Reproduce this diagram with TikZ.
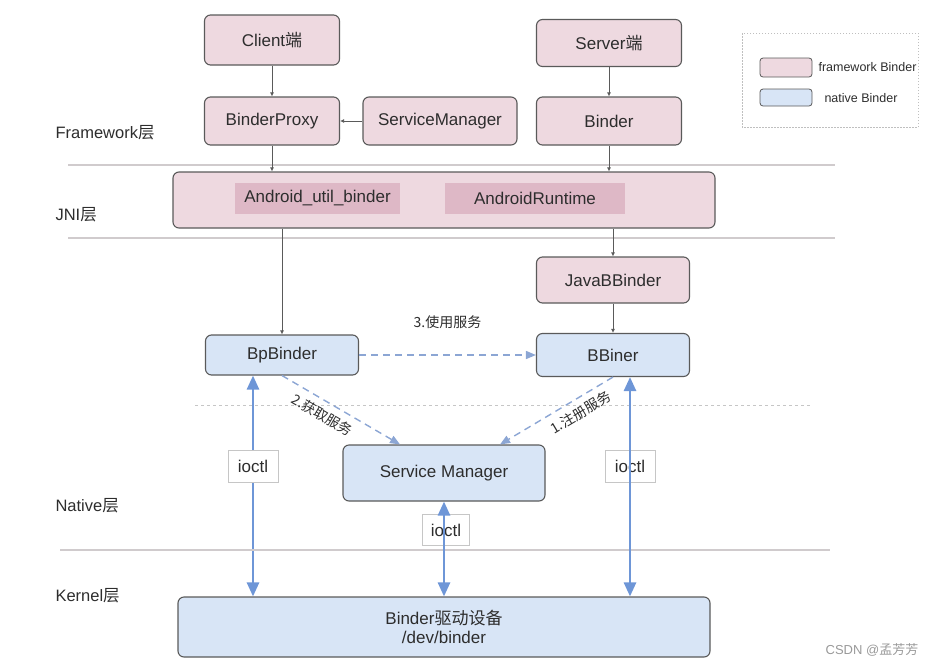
\documentclass[tikz,border=0pt]{standalone}
\usepackage{fontspec}
\setmainfont{Liberation Sans}
\newfontfamily\cjk{Noto Sans CJK SC}
\usetikzlibrary{arrows.meta,backgrounds}
\definecolor{fwpink}{RGB}{238,217,224}
\definecolor{fwdark}{RGB}{222,184,198}
\definecolor{nvblue}{RGB}{216,229,246}
\definecolor{lnblue}{RGB}{110,150,215}
\definecolor{dsblue}{RGB}{140,166,212}
\definecolor{sepgray}{RGB}{208,203,205}
\definecolor{edgegray}{RGB}{90,90,90}
\definecolor{txt}{RGB}{45,45,45}

\begin{document}
\begin{tikzpicture}[x=1pt,y=-1pt,text=txt,
    fw/.style={draw=edgegray, fill=fwpink, rounded corners=6pt, line width=1.1pt, font=\fontsize{17}{20}\selectfont, inner sep=0pt},
    nv/.style={fw, fill=nvblue},
    sub/.style={fill=fwdark, font=\fontsize{17}{20}\selectfont, minimum height=31pt, inner sep=0pt},
    io/.style={draw=gray!45, fill=white, font=\fontsize{17}{20}\selectfont, minimum width=50pt, minimum height=32pt, inner sep=0pt},
    layer/.style={font=\fontsize{16.5}{19}\selectfont, anchor=west},
    sep/.style={draw=sepgray, line width=1.5pt},
    thin/.style={draw=edgegray, line width=0.8pt, -{Latex[length=4pt,width=4pt]}},
    dsh/.style={draw=dsblue, line width=1.4pt, dash pattern=on 7pt off 5pt, -{Triangle[length=10pt,width=8pt]}},
    ioline/.style={draw=lnblue, line width=2.6pt, {Triangle[length=14pt,width=12pt]}-{Triangle[length=14pt,width=12pt]}},
    note/.style={font=\cjk\fontsize{14}{16}\selectfont}]
    \useasboundingbox (0,0) rectangle (945,667);

    % layers
    \node(lfw) at (52,133) [layer]{Framework{\cjk 层}};
    \node(ljni) at (52,215) [layer]{JNI{\cjk 层}};
    \node(lnat) at (52,506) [layer]{Native{\cjk 层}};
    \node(lker) at (52,596) [layer]{Kernel{\cjk 层}};
    \draw[sep] (68,165) -- (835,165);
    \draw[sep] (68,238) -- (835,238);
    \draw[draw=gray!45, line width=1pt, dash pattern=on 3pt off 3pt] (195,405) -- (810,405);
    \draw[sep] (60,550) -- (830,550);

    % framework
    \node(client) at (272,40) [fw, minimum width=135pt, minimum height=50pt]{Client{\cjk 端}};
    \node(server) at (609,43) [fw, minimum width=145pt, minimum height=47pt]{Server{\cjk 端}};
    \node(bproxy) at (272,121) [fw, minimum width=135pt, minimum height=48pt]{BinderProxy};
    \node(smgr) at (440,121) [fw, minimum width=154pt, minimum height=48pt]{ServiceManager};
    \node(binder) at (609,121) [fw, minimum width=145pt, minimum height=48pt]{Binder};

    % jni
    \node(jni) at (444,200) [fw, minimum width=542pt, minimum height=56pt]{};
    \node(aub) at (317.5,198.5) [sub, minimum width=165pt]{Android\_util\_binder};
    \node(art) at (535,198.5) [sub, minimum width=180pt]{AndroidRuntime};

    % native
    \node(jbb) at (613,280) [fw, minimum width=153pt, minimum height=46pt]{JavaBBinder};
    \node(bp) at (282,355) [nv, minimum width=153pt, minimum height=40pt]{BpBinder};
    \node(bb) at (613,355) [nv, minimum width=153pt, minimum height=43pt]{BBiner};
    \node(sm) at (444,473) [nv, minimum width=202pt, minimum height=56pt]{Service Manager};
    \node(io1) at (253,466) [io]{ioctl};
    \node(io2) at (630,466) [io]{ioctl};
    \node(io3) at (446,530) [io, minimum width=47pt, minimum height=31pt]{ioctl};

    % kernel
    \node(kern) at (444,627) [nv, minimum width=532pt, minimum height=60pt, align=center]{Binder{\cjk 驱动设备}\\[-1pt]/dev/binder};

    % legend
    \draw[draw=gray!50, line width=0.8pt, dash pattern=on 1.5pt off 1.5pt] (742,33) rectangle (918,127);
    \node(kfw) at (786,67.5) [fw, line width=0.8pt, rounded corners=3pt, minimum width=52pt, minimum height=19pt]{};
    \node(knv) at (786,97.5) [nv, line width=0.8pt, rounded corners=3pt, minimum width=52pt, minimum height=17pt]{};
    \node(tfw) at (815,67) [anchor=west, font=\fontsize{12.5}{14}\selectfont]{framework Binder};
    \node(tnv) at (821,98) [anchor=west, font=\fontsize{12.5}{14}\selectfont]{native Binder};

    \node(mark) at (872,650) [text=gray!80, font=\fontsize{13}{15}\selectfont]{CSDN @{\cjk 孟芳芳}};

    % connectors
    \draw[thin] (client) -- (bproxy);
    \draw[thin] (smgr) -- (bproxy);
    \draw[thin] (bproxy.south) -- (bproxy.south |- jni.north);
    \draw[thin] (server) -- (binder);
    \draw[thin] (binder.south) -- (binder.south |- jni.north);
    \draw[thin] (bp.north |- jni.south) -- (bp);
    \draw[thin] (jbb.north |- jni.south) -- (jbb);
    \draw[thin] (jbb) -- (bb);

    \draw[dsh] (bp) -- node[note, above=22pt]{3.使用服务} (bb);
    \draw[dsh] (bp.south) -- node[note, sloped, below=3pt, pos=0.4]{2.获取服务} (sm.147);
    \draw[dsh] (bb.south) -- node[note, sloped, below=3pt, pos=0.35]{1.注册服务} (sm.27);

    \begin{pgfonlayer}{background}
    \draw[ioline] (io1 |- bp.south) -- (io1 |- kern.north);
    \end{pgfonlayer}
    \draw[ioline] (io2 |- bb.south) -- (io2 |- kern.north);
    \draw[ioline] (sm) -- (sm |- kern.north);
\end{tikzpicture}
\end{document}
